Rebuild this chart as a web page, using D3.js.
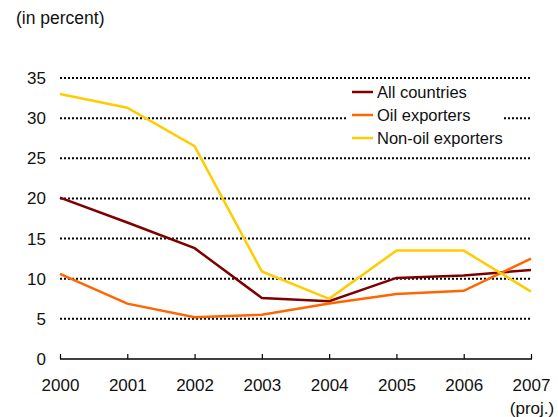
<!DOCTYPE html>
<html>
<head>
<meta charset="utf-8">
<script src="https://cdn.jsdelivr.net/npm/d3@7"></script>
<style>
  body { margin: 0; background: #fff; }
  svg { font-family: "Liberation Sans", Arial, sans-serif; }
</style>
</head>
<body>
<svg id="chart" width="558" height="417"></svg>
<script>
var years = [2000, 2001, 2002, 2003, 2004, 2005, 2006, 2007];
var yearLabels = ["2000", "2001", "2002", "2003", "2004", "2005", "2006", "2007"];
var yTicks = [0, 5, 10, 15, 20, 25, 30, 35];
var allCountries = [20.1, 17.0, 13.8, 7.6, 7.2, 10.1, 10.4, 11.1];
var oilExporters = [10.6, 6.9, 5.2, 5.5, 6.9, 8.1, 8.5, 12.5];
var nonOilExporters = [33.0, 31.3, 26.5, 10.9, 7.5, 13.5, 13.5, 8.4];
var seriesNames = ["All countries", "Oil exporters", "Non-oil exporters"];
var seriesColors = ["#800000", "#ff6600", "#ffcc00"];

var svg = d3.select('#chart');
var margin = {top: 78, left: 60, right: 27, bottom: 58};
var width = 558, height = 417;

var x = d3.scaleLinear()
  .domain([2000, 2007])
  .range([margin.left, width - margin.right]);

var y = d3.scaleLinear()
  .domain([0, 35])
  .range([height - margin.bottom, margin.top]);

// dotted gridlines
svg.append("g")
  .selectAll("line")
  .data(yTicks.filter(function(d) { return d > 0; }))
  .enter().append("line")
  .attr("x1", x(2000))
  .attr("x2", x(2007) + 1)
  .attr("y1", function(d) { return y(d); })
  .attr("y2", function(d) { return y(d); })
  .attr("stroke", "#000")
  .attr("stroke-width", 2)
  .attr("stroke-dasharray", "2,2");

// y labels
svg.append("g")
  .selectAll("text")
  .data(yTicks)
  .enter().append("text")
  .attr("x", 46)
  .attr("y", function(d) { return y(d); })
  .attr("dy", "0.35em")
  .attr("text-anchor", "end")
  .attr("font-size", "17px")
  .attr("fill", "#111")
  .text(function(d) { return d; });

// x axis
svg.append("g")
  .attr("transform", "translate(0," + y(0) + ")")
  .call(d3.axisBottom(x)
    .tickValues(years)
    .tickSize(-5)
    .tickSizeOuter(0)
    .tickFormat(function(d, i) { return yearLabels[i]; }))
  .call(function(g) { g.select(".domain").attr("stroke", "#000").attr("stroke-width", 1.5).attr("d", "M" + x(2000) + ",0H" + (x(2007) + 1)); })
  .call(function(g) { g.selectAll(".tick line").attr("stroke", "#000").attr("stroke-width", 1.2); })
  .call(function(g) { g.selectAll(".tick text")
      .attr("y", 26)
      .attr("dy", "0.35em")
      .attr("font-size", "17px")
      .attr("fill", "#111")
      .attr("font-family", "Liberation Sans, Arial, sans-serif"); });

svg.append("text")
  .attr("x", x(2007) + 1)
  .attr("y", 408)
  .attr("dy", "0.35em")
  .attr("text-anchor", "middle")
  .attr("font-size", "17px")
  .attr("fill", "#111")
  .text("(proj.)");

svg.append("text")
  .attr("x", 16)
  .attr("y", 18)
  .attr("dy", "0.35em")
  .attr("font-size", "17.5px")
  .attr("fill", "#111")
  .text("(in percent)");

// lines
var line = d3.line()
  .x(function(d, i) { return x(years[i]); })
  .y(function(d) { return y(d); });

[allCountries, oilExporters, nonOilExporters].forEach(function(s, k) {
  svg.append("path")
    .datum(s)
    .attr("fill", "none")
    .attr("stroke", seriesColors[k])
    .attr("stroke-width", 2.5)
    .attr("stroke-linejoin", "miter")
    .attr("d", line);
});

// legend
var legend = svg.append("g");
legend.append("rect")
  .attr("x", 347)
  .attr("y", 82)
  .attr("width", 157)
  .attr("height", 66)
  .attr("fill", "#fff");

seriesNames.forEach(function(name, k) {
  var ly = 92 + k * 23;
  legend.append("line")
    .attr("x1", 352).attr("x2", 373)
    .attr("y1", ly).attr("y2", ly)
    .attr("stroke", seriesColors[k])
    .attr("stroke-width", 2.5);
  legend.append("text")
    .attr("x", 377)
    .attr("y", ly)
    .attr("dy", "0.35em")
    .attr("font-size", "16.5px")
    .attr("fill", "#111")
    .text(name);
});
</script>
</body>
</html>
